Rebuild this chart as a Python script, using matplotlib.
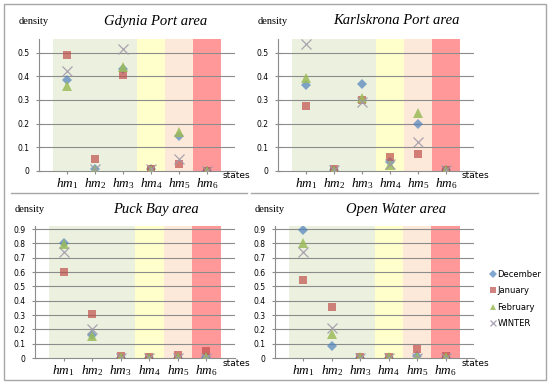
import matplotlib
matplotlib.use('Agg')
import matplotlib.pyplot as plt
from matplotlib.lines import Line2D
from matplotlib.patches import Rectangle

plt.rcParams['mathtext.fontset'] = 'custom'
plt.rcParams['mathtext.it'] = 'Liberation Serif:italic'
plt.rcParams['mathtext.rm'] = 'Liberation Serif'

states = ['1', '2', '3', '4', '5', '6']
series = ['December', 'January', 'February', 'WINTER']

gdynia_dec = [0.386, 0.01, 0.43, 0.01, 0.146, 0.0]
gdynia_jan = [0.489, 0.052, 0.407, 0.01, 0.028, 0.0]
gdynia_feb = [0.358, 0.005, 0.44, 0.005, 0.165, 0.0]
gdynia_win = [0.42, 0.01, 0.513, 0.01, 0.052, 0.0]

karls_dec = [0.364, 0.005, 0.365, 0.04, 0.197, 0.005]
karls_jan = [0.275, 0.01, 0.30, 0.06, 0.071, 0.005]
karls_feb = [0.392, 0.005, 0.306, 0.025, 0.244, 0.005]
karls_win = [0.534, 0.005, 0.29, 0.03, 0.122, 0.005]

puck_dec = [0.80, 0.16, 0.0, 0.0, 0.0, 0.005]
puck_jan = [0.598, 0.307, 0.016, 0.005, 0.023, 0.05]
puck_feb = [0.795, 0.156, 0.005, 0.0, 0.005, 0.005]
puck_win = [0.737, 0.2, 0.0, 0.0, 0.0, 0.0]

open_dec = [0.895, 0.081, 0.0, 0.0, 0.016, 0.0]
open_jan = [0.546, 0.358, 0.005, 0.005, 0.063, 0.016]
open_feb = [0.80, 0.167, 0.005, 0.005, 0.005, 0.005]
open_win = [0.737, 0.207, 0.0, 0.0, 0.0, 0.0]

panels = [
    ('Gdynia Port area', [gdynia_dec, gdynia_jan, gdynia_feb, gdynia_win],
     [39, 235, 171, 0.555], [0.1, 0.2, 0.3, 0.4, 0.5], 156),
    ('Karlskrona Port area', [karls_dec, karls_jan, karls_feb, karls_win],
     [278, 474, 171, 0.555], [0.1, 0.2, 0.3, 0.4, 0.5], 396),
    ('Puck Bay area', [puck_dec, puck_jan, puck_feb, puck_win],
     [35, 235, 358, 0.92], [0.1, 0.2, 0.3, 0.4, 0.5, 0.6, 0.7, 0.8, 0.9], 156),
    ('Open Water area', [open_dec, open_jan, open_feb, open_win],
     [275, 474, 358, 0.92], [0.1, 0.2, 0.3, 0.4, 0.5, 0.6, 0.7, 0.8, 0.9], 396),
]

W, H = 550, 384
fig = plt.figure(figsize=(5.5, 3.84), dpi=100)

styles = [
    dict(marker='D', color='#4F81BD', ms=5.5, alpha=0.7, mew=0),
    dict(marker='s', color='#C0504D', ms=6.2, alpha=0.7, mew=0),
    dict(marker='^', color='#9BBB59', ms=6.5, alpha=0.85, mew=0),
    dict(marker='x', color='#A09AAA', ms=6.5, alpha=0.9, mew=0.9),
]
bands = [(0.5, 3.5, '#EBF1DE'), (3.5, 4.5, '#FFFFCC'),
         (4.5, 5.5, '#FDE9D9'), (5.5, 6.5, '#FF9999')]

for title, data, (x0, x1, y0, ytop), yticks, tx in panels:
    scale = 237 if ytop < 0.6 else 143.3
    top_px = y0 - ytop * scale
    ax = fig.add_axes([x0 / W, 1 - y0 / H, (x1 - x0) / W, (y0 - top_px) / H])
    ax.set_xlim(0, 7)
    ax.set_ylim(0, ytop)
    for a, b, c in bands:
        ax.axvspan(a, b, color=c, lw=0, zorder=0)
    for t in yticks:
        ax.axhline(t, color='#8C8C8C', lw=0.8, zorder=1)
    xs = range(1, len(states) + 1)
    for vals, st, name in zip(data, styles, series):
        ax.plot(xs, vals, ls='none', zorder=3, label=name, **st)
    ax.set_facecolor('none')
    for s in ['top', 'right']:
        ax.spines[s].set_visible(False)
    for s in ['left', 'bottom']:
        ax.spines[s].set_color('#8C8C8C')
        ax.spines[s].set_linewidth(0.8)
    ax.set_yticks([0] + yticks)
    ax.set_yticklabels(['0'] + [f'{t:.1f}' for t in yticks])
    ax.set_xticks(list(xs))
    ax.set_xticklabels([r'$hm_{\mathrm{%s}}$' % s for s in states])
    ax.tick_params(axis='y', labelsize=5.5, direction='inout', length=4,
                   color='#8C8C8C', pad=5)
    ax.tick_params(axis='x', labelsize=9.5, direction='out', length=2.5,
                   color='#8C8C8C', pad=1)
    ty = 21 if ytop < 0.6 else 209
    fig.text(tx / W, 1 - ty / H, title, family='Liberation Serif',
             style='italic', fontsize=10.5, ha='center', va='center')
    fig.text((x0 - 20) / W, 1 - ty / H, 'density', family='Liberation Serif',
             fontsize=7.5, ha='left', va='center')
    fig.text((x1 - 12) / W, 1 - (y0 + 5) / H, 'states', fontsize=6.5,
             ha='left', va='center')

handles = [Line2D([], [], ls='none', **st) for st in styles]
fig.legend(handles, series, loc='center left', bbox_to_anchor=(485 / W, 1 - 299 / H),
           frameon=False, fontsize=6, handlelength=0.8, handletextpad=0.2,
           labelspacing=0.9, markerscale=0.75, borderpad=0)

fig.add_artist(Rectangle((4 / W, 4 / H), 542 / W, 376 / H, transform=fig.transFigure,
                         fill=False, ec='#A6A6A6', lw=1))
fig.add_artist(Line2D([11 / W, 247 / W], [1 - 193 / H, 1 - 193 / H], color='#A6A6A6', lw=1))
fig.add_artist(Line2D([251 / W, 538 / W], [1 - 193 / H, 1 - 193 / H], color='#A6A6A6', lw=1))

fig.savefig('out.png', dpi=100)
